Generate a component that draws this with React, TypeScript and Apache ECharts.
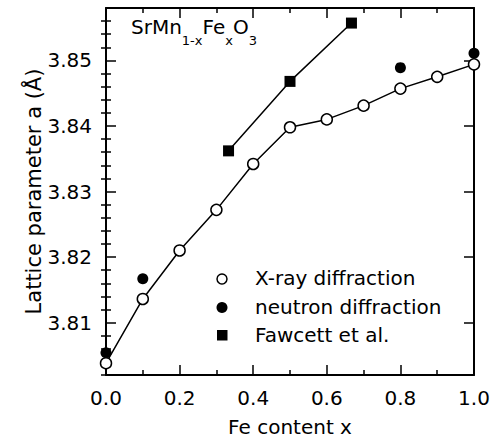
import React, { useEffect, useRef } from "react";
import * as echarts from "echarts";

const xrayX = [0.0, 0.1, 0.2, 0.3, 0.4, 0.5, 0.6, 0.7, 0.8, 0.9, 1.0];
const xrayY = [3.8038, 3.8136, 3.821, 3.8272, 3.8342, 3.8398, 3.841, 3.8431, 3.8457, 3.8475, 3.8494];
const neutronX = [0.0, 0.1, 0.8, 1.0];
const neutronY = [3.8054, 3.8167, 3.8489, 3.8511];
const fawcettX = [0.333, 0.5, 0.667];
const fawcettY = [3.8362, 3.8468, 3.8557];

const yMajorTicks = [3.81, 3.82, 3.83, 3.84, 3.85];
const yMinorTicks = [
  3.802, 3.804, 3.806, 3.808, 3.812, 3.814, 3.816, 3.818, 3.822, 3.824, 3.826, 3.828,
  3.832, 3.834, 3.836, 3.838, 3.842, 3.844, 3.846, 3.848, 3.852, 3.854, 3.856,
];
const legendNames = ["X-ray diffraction", "neutron diffraction", "Fawcett et al."];

const FONT = "DejaVu Sans";
const BLACK = "#000";

export default function App() {
  const ref = useRef<HTMLDivElement>(null);
  useEffect(() => {
    if (!ref.current) return;
    const chart = echarts.init(ref.current, null, { renderer: "svg" });
    const yBase = {
      type: "value" as const,
      min: 3.802,
      max: 3.858,
      splitLine: { show: false },
    };
    const xBase = {
      type: "value" as const,
      min: 0,
      max: 1,
      interval: 0.2,
      splitLine: { show: false },
      axisLine: { show: true, onZero: false, lineStyle: { color: BLACK, width: 2 } },
      axisTick: { show: true, inside: true, length: 10, lineStyle: { color: BLACK, width: 1.5 } },
      minorTick: { show: true, splitNumber: 2, length: 5, lineStyle: { color: BLACK, width: 1.5 } },
    };
    const toPairs = (xs: number[], ys: number[]) => xs.map((x, i) => [x, ys[i]]);
    chart.setOption({
      animation: false,
      backgroundColor: "#fff",
      grid: { left: 106, right: 17, top: 8, bottom: 63, containLabel: false, outerBoundsMode: "none" },
      xAxis: [
        {
          ...xBase,
          position: "bottom",
          axisLabel: {
            formatter: (v: number) => v.toFixed(1),
            fontSize: 20,
            fontFamily: FONT,
            color: BLACK,
            margin: 13,
          },
          name: "Fe content x",
          nameLocation: "middle",
          nameGap: 42,
          nameMoveOverlap: false,
          nameTextStyle: { fontSize: 20, fontFamily: FONT, color: BLACK },
        },
        { ...xBase, position: "top", axisLabel: { show: false } },
      ],
      yAxis: [
        {
          ...yBase,
          position: "left",
          axisLine: { show: true, onZero: false, lineStyle: { color: BLACK, width: 2 } },
          axisTick: { show: true, inside: true, length: 10, customValues: yMajorTicks, lineStyle: { color: BLACK, width: 1.5 } },
          axisLabel: {
            customValues: yMajorTicks,
            formatter: (v: number) => v.toFixed(2),
            fontSize: 20,
            fontFamily: FONT,
            color: BLACK,
            margin: 14,
          },
          name: "Lattice parameter a (Å)",
          nameLocation: "middle",
          nameGap: 62,
          nameMoveOverlap: false,
          nameTextStyle: { fontSize: 21, fontFamily: FONT, color: BLACK },
        },
        {
          ...yBase,
          position: "left",
          axisLine: { show: false },
          axisTick: { show: true, inside: true, length: 5, customValues: yMinorTicks, lineStyle: { color: BLACK, width: 1.5 } },
          axisLabel: { show: false },
        },
        {
          ...yBase,
          position: "right",
          axisLine: { show: true, onZero: false, lineStyle: { color: BLACK, width: 2 } },
          axisTick: { show: true, inside: true, length: 10, customValues: yMajorTicks, lineStyle: { color: BLACK, width: 1.5 } },
          axisLabel: { show: false },
        },
        {
          ...yBase,
          position: "right",
          axisLine: { show: false },
          axisTick: { show: true, inside: true, length: 5, customValues: yMinorTicks, lineStyle: { color: BLACK, width: 1.5 } },
          axisLabel: { show: false },
        },
      ],
      series: [
        {
          name: legendNames[2],
          type: "line",
          data: toPairs(fawcettX, fawcettY),
          symbol: "rect",
          symbolSize: 11,
          lineStyle: { color: BLACK, width: 1.5 },
          itemStyle: { color: BLACK, opacity: 1 },
          z: 2,
        },
        {
          name: legendNames[1],
          type: "scatter",
          data: toPairs(neutronX, neutronY),
          symbol: "circle",
          symbolSize: 11,
          itemStyle: { color: BLACK, opacity: 1 },
          z: 3,
        },
        {
          name: legendNames[0],
          type: "line",
          data: toPairs(xrayX, xrayY),
          symbol: "circle",
          symbolSize: 11,
          showAllSymbol: true,
          lineStyle: { color: BLACK, width: 1.5 },
          itemStyle: { color: "#fff", borderColor: BLACK, borderWidth: 1.5, opacity: 1 },
          z: 4,
        },
      ],
      graphic: [
        {
          type: "text",
          left: 131,
          top: 17,
          style: {
            text: "{a|SrMn}{s|1-x}{a|Fe}{s|x}{a|O}{s|3}",
            fill: BLACK,
            rich: {
              a: { fontSize: 20, fontFamily: FONT, lineHeight: 22, verticalAlign: "top", fill: BLACK },
              s: { fontSize: 13, fontFamily: FONT, lineHeight: 14, padding: [17, 0, 0, 0], verticalAlign: "top", fill: BLACK },
            },
          },
        },
        { type: "circle", shape: { cx: 222, cy: 279, r: 5 }, style: { fill: "#fff", stroke: BLACK, lineWidth: 1.5 } },
        { type: "circle", shape: { cx: 222, cy: 307.5, r: 5.5 }, style: { fill: BLACK } },
        { type: "rect", shape: { x: 217, y: 330, width: 10.5, height: 10.5 }, style: { fill: BLACK } },
        { type: "text", x: 255, y: 278, style: { text: legendNames[0], fontSize: 20, fontFamily: FONT, fill: BLACK, verticalAlign: "middle" } },
        { type: "text", x: 255, y: 306.5, style: { text: legendNames[1], fontSize: 20, fontFamily: FONT, fill: BLACK, verticalAlign: "middle" } },
        { type: "text", x: 255, y: 335, style: { text: legendNames[2], fontSize: 20, fontFamily: FONT, fill: BLACK, verticalAlign: "middle" } },
      ],
    });
    return () => chart.dispose();
  }, []);
  return <div ref={ref} style={{ width: 491, height: 438, position: "absolute", left: 0, top: 0 }} />;
}
